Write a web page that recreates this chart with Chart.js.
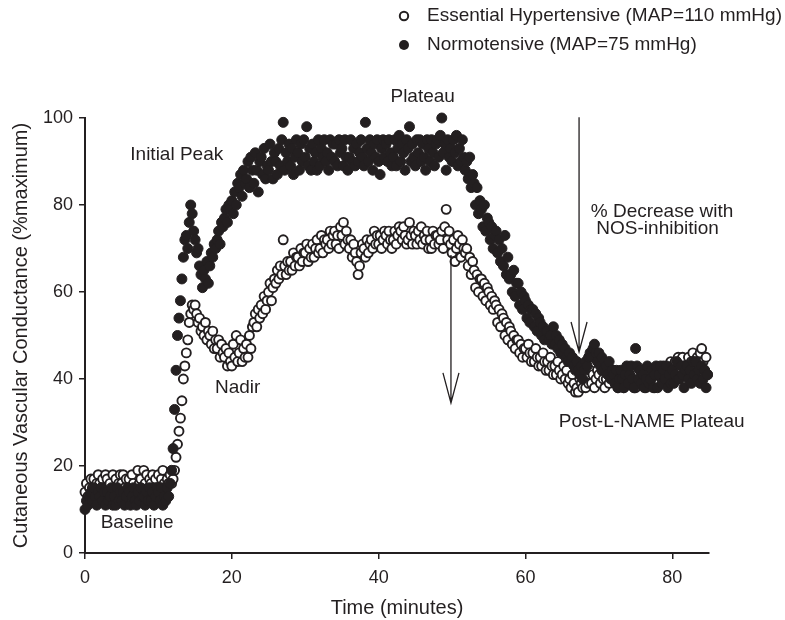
<!DOCTYPE html>
<html><head><meta charset="utf-8">
<script src="https://cdn.jsdelivr.net/npm/chart.js@4.4.1/dist/chart.umd.min.js"></script>
<style>html,body{margin:0;padding:0;background:#fff}canvas{display:block}</style>
</head><body>
<canvas id="c" width="785" height="620"></canvas>
<script>
// Recording sampled every 0.2 minutes (12 s), starting at time 0
const sampleStepMin = 0.2;

// Normotensive (MAP=75 mmHg) – filled circles, 5 samples per minute
const normotensive = [
 10,12,11,13,14, 12,15,13,11,14, 13,15,12,14,11, 14,12,13,15,11, 13,11,15,12,14,
 12,14,11,13,15, 14,11,13,15,12, 11,14,12,15,13, 13,11,14,12,15, 12,14,11,13,15,
 14,12,15,11,13, 12,15,13,16,19, 24,33,42,50,54, 58,63,68,72,73, 70,76,80,78,74,
 72,69,70,66,64, 61,65,63,67,62, 66,69,68,71,70, 72,74,71,76,75, 77,79,76,80,79,
 81,78,83,80,85, 84,87,82,88,85, 86,90,84,91,88, 85,92,88,83,90, 91,87,93,86,89,
 88,94,90,86,92, 90,87,93,89,95, 99,88,92,90,94, 89,93,87,91,95, 92,88,94,90,95,
 91,98,89,93,88, 94,90,92,88,95, 89,93,91,95,90, 92,88,95,91,94, 90,94,89,95,92,
 93,89,95,91,88, 91,95,90,93,89, 94,90,92,95,91, 89,99,93,90,95, 92,88,94,91,95,
 90,87,93,95,91, 94,90,95,92,89, 91,95,89,93,96, 90,94,92,88,95, 93,98,90,94,91,
 89,95,92,95,90, 94,91,88,95,93, 90,95,92,89,94, 95,91,96,100,92, 94,88,95,91,93,
 90,95,92,96,89, 93,90,95,91,88, 90,86,91,84,87, 85,80,84,78,81, 79,75,80,74,77,
 76,72,75,70,73, 74,69,72,67,70, 66,73,64,68,63, 64,60,65,59,62, 62,57,60,56,59,
 58,54,57,53,56, 56,52,55,51,54, 53,50,52,49,51, 51,49,50,48,52, 48,50,47,49,46,
 48,46,47,45,44, 46,44,45,43,42, 44,42,41,43,40, 42,44,43,45,46, 45,47,48,46,44,
 46,43,45,42,44, 43,41,44,40,42, 41,39,42,38,40, 42,40,38,41,43, 39,41,43,40,38,
 47,43,40,42,39, 41,38,40,43,39, 40,42,38,41,43, 38,41,43,39,42, 40,43,38,41,39,
 42,39,41,44,40, 40,43,41,38,42, 43,40,42,39,44, 41,44,40,42,39, 43,40,42,38,41
];

// Essential Hypertensive (MAP=110 mmHg) – open circles, 5 samples per minute
const essentialHypertensive = [
 14,16,13,15,17, 15,17,14,16,18, 16,14,17,15,18, 17,15,16,14,18, 15,17,14,16,18,
 16,18,15,17,14, 17,15,18,16,14, 15,19,16,17,14, 19,16,18,15,17, 16,18,15,17,14,
 18,15,17,19,16, 15,17,16,18,16, 17,19,22,25,28, 31,35,40,43,46, 49,53,55,57,56,
 57,55,53,54,51, 52,50,53,49,51, 50,48,51,47,49, 47,49,45,48,46, 45,47,43,46,44,
 43,48,45,50,44, 46,49,44,47,45, 48,45,50,47,52, 53,55,52,56,54, 57,55,59,56,58,
 60,62,58,61,63, 62,65,63,66,64, 72,66,64,67,65, 67,65,69,66,68, 68,66,70,67,69,
 69,71,67,70,68, 71,68,70,72,69, 70,73,69,72,71, 72,70,74,71,73, 74,71,73,70,75,
 73,76,71,74,72, 70,72,68,71,69, 67,64,66,69,71, 70,68,72,69,71, 72,70,74,71,73,
 71,73,70,72,74, 73,71,74,72,70, 72,74,71,73,75, 74,72,75,73,71, 72,76,73,71,74,
 73,71,74,72,75, 71,73,72,74,70, 72,70,74,71,73, 73,71,72,74,70, 75,79,72,74,71,
 69,72,67,70,73, 71,68,72,70,69, 70,66,68,64,67, 65,61,64,60,63, 63,59,62,58,61,
 60,57,59,56,58, 57,53,56,52,55, 54,50,53,49,52, 51,48,50,47,49, 49,46,48,45,47,
 47,45,48,46,44, 46,44,47,45,43, 45,43,46,44,42, 44,42,45,43,41, 43,41,44,42,40,
 41,43,40,42,39, 40,38,41,39,37, 38,37,40,39,38, 40,38,41,39,42, 39,41,38,40,42,
 41,39,42,40,38, 40,43,39,41,42, 42,39,41,38,40, 39,41,38,42,40, 41,39,42,40,38,
 38,41,39,42,40, 42,40,38,41,39, 39,42,40,38,41, 41,39,42,40,43, 42,40,43,41,44,
 43,41,44,42,45, 44,42,45,43,41, 43,45,42,44,46, 44,42,45,43,46, 47,44,42,45,41
];

const xTicks = [0, 20, 40, 60, 80];
const yTicks = [0, 20, 40, 60, 80, 100];
const seriesNames = ['Essential Hypertensive (MAP=110 mmHg)', 'Normotensive (MAP=75 mmHg)'];

const toPoints = arr => arr.map((v, i) => ({ x: i * sampleStepMin, y: v }));

const INK = '#231f20';
const FONT = '"Liberation Sans", Arial, Helvetica, sans-serif';

const overlay = {
  id: 'overlay',
  afterDraw(chart) {
    const { ctx, scales: { x, y } } = chart;
    ctx.save();
    ctx.fillStyle = INK;
    ctx.strokeStyle = INK;
    ctx.font = '19px ' + FONT;
    ctx.textAlign = 'center';
    ctx.textBaseline = 'middle';
    const labels = [
      ['Plateau', 46.0, 104.8],
      ['Initial Peak', 12.5, 91.5],
      ['Nadir', 20.8, 37.9],
      ['Baseline', 7.1, 6.9],
      ['% Decrease with', 78.6, 78.4],
      ['NOS-inhibition', 78.0, 74.5],
      ['Post-L-NAME Plateau', 77.2, 30.1]
    ];
    labels.forEach(([t, vx, vy]) => ctx.fillText(t, x.getPixelForValue(vx), y.getPixelForValue(vy)));
    const arrows = [[49.85, 68.5, 34.5], [67.3, 100.2, 46.2]];
    ctx.lineWidth = 1.3;
    arrows.forEach(([vx, y0, y1]) => {
      const px = x.getPixelForValue(vx), p0 = y.getPixelForValue(y0), p1 = y.getPixelForValue(y1);
      ctx.beginPath();
      ctx.moveTo(px, p0); ctx.lineTo(px, p1);
      ctx.moveTo(px - 8, p1 - 30); ctx.lineTo(px, p1); ctx.lineTo(px + 8, p1 - 30);
      ctx.stroke();
    });
    ctx.textAlign = 'left';
    const rows = [[16, false], [45, true]];
    rows.forEach(([py, filled], i) => {
      ctx.beginPath();
      ctx.arc(404, py, filled ? 5 : 4.2, 0, Math.PI * 2);
      if (filled) { ctx.fillStyle = INK; ctx.fill(); }
      else { ctx.fillStyle = '#fff'; ctx.fill(); ctx.lineWidth = 2; ctx.stroke(); }
      ctx.fillStyle = INK;
      ctx.fillText(seriesNames[i], 427, py);
    });
    ctx.restore();
  }
};

new Chart(document.getElementById('c'), {
  type: 'scatter',
  data: {
    datasets: [
      { label: seriesNames[1], data: toPoints(normotensive), pointRadius: 5, pointBorderWidth: 1,
        backgroundColor: INK, borderColor: INK, pointHoverRadius: 5, clip: false },
      { label: seriesNames[0], data: toPoints(essentialHypertensive), pointRadius: 4.5, pointBorderWidth: 1.9,
        backgroundColor: '#ffffff', borderColor: INK, pointHoverRadius: 4.5, clip: false }
    ]
  },
  options: {
    responsive: false,
    animation: false,
    events: [],
    layout: { padding: { top: 118, right: 76, bottom: 0, left: 0 } },
    plugins: { legend: { display: false }, tooltip: { enabled: false } },
    scales: {
      x: {
        type: 'linear', min: 0, max: 85,
        afterBuildTicks: s => { s.ticks = xTicks.map(v => ({ value: v })); },
        afterFit: s => { s.height = 67; },
        grid: { drawOnChartArea: false, drawTicks: true, tickLength: 6, color: INK, lineWidth: 1.5 },
        border: { display: true, color: INK, width: 2 },
        ticks: { color: INK, font: { family: FONT, size: 18 }, padding: 8, maxRotation: 0 },
        title: { display: true, text: 'Time (minutes)', color: INK, font: { family: FONT, size: 20 }, padding: { top: 0, bottom: 0 } }
      },
      y: {
        type: 'linear', min: 0, max: 100,
        afterBuildTicks: s => { s.ticks = yTicks.map(v => ({ value: v })); },
        afterFit: s => { s.width = 85; },
        grid: { drawOnChartArea: false, drawTicks: true, tickLength: 6, color: INK, lineWidth: 1.5 },
        border: { display: true, color: INK, width: 2 },
        ticks: { color: INK, font: { family: FONT, size: 18 }, padding: 6 },
        title: { display: true, text: 'Cutaneous Vascular Conductance (%maximum)', color: INK, font: { family: FONT, size: 20 }, padding: { top: 9, bottom: 0 } }
      }
    }
  },
  plugins: [overlay]
});
</script>
</body></html>
